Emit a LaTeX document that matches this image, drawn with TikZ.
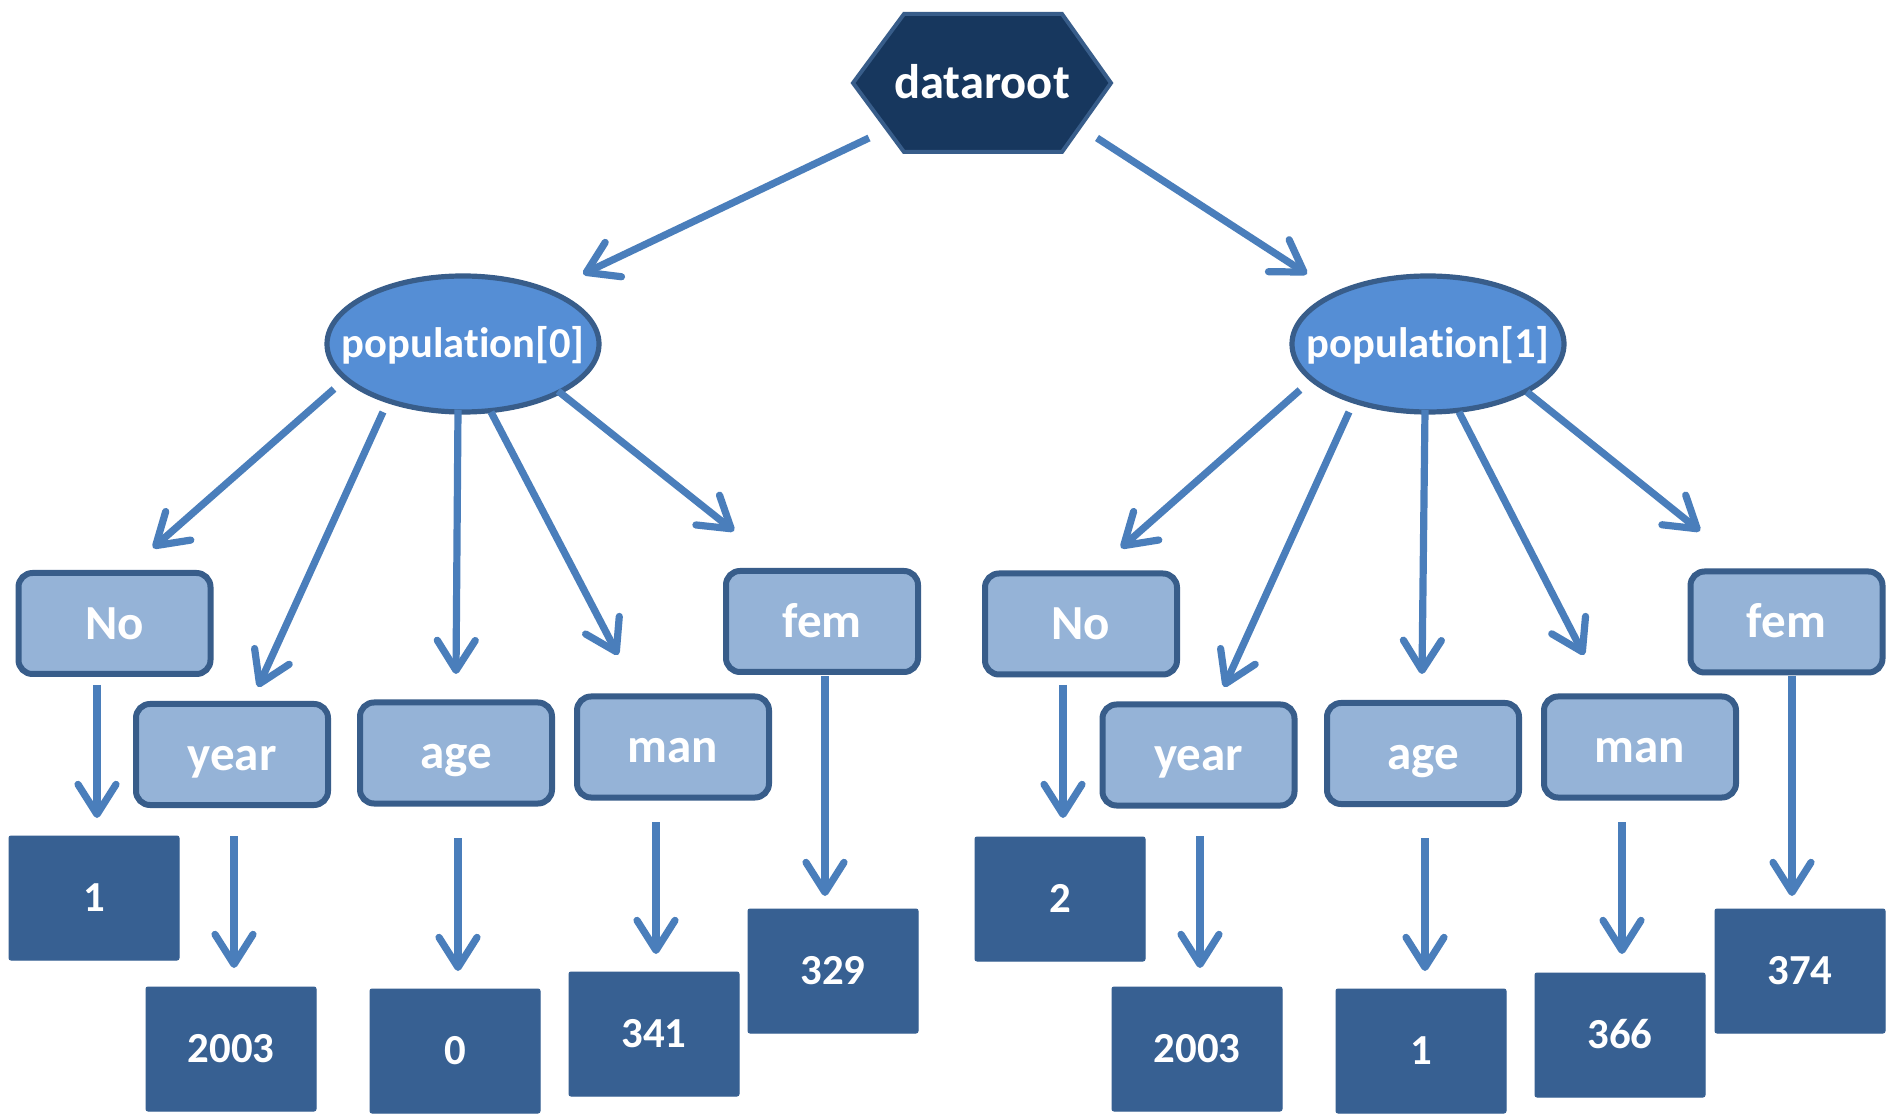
\documentclass[tikz,border=0pt]{standalone}
\usepackage{fontspec}
\setmainfont{Carlito}[Ligatures=NoCommon]
\usetikzlibrary{arrows.meta,shapes.geometric}
\definecolor{navy}{HTML}{17375E}
\definecolor{edgeb}{HTML}{385D8A}
\definecolor{ellf}{HTML}{558ED5}
\definecolor{keyf}{HTML}{95B3D7}
\definecolor{valf}{HTML}{376092}
\definecolor{arrc}{HTML}{4A7EBB}
\newcommand{\zw}[1]{\makebox[0pt]{#1}}
\begin{document}
\begin{tikzpicture}[x=0.5pt,y=-0.5pt,
  popnode/.style={ellipse, draw=edgeb, line width=2.6pt, fill=ellf, minimum width=136pt, minimum height=68pt, inner sep=0pt, text=white, text height=13.7pt, text depth=0pt, font=\bfseries\fontsize{21.3pt}{25pt}\selectfont},
  keybox/.style={rectangle, rounded corners=7pt, draw=edgeb, line width=3pt, fill=keyf, minimum width=96pt, minimum height=50.5pt, inner sep=0pt, text=white, text height=15.7pt, text depth=0pt, font=\bfseries\fontsize{24.5pt}{29pt}\selectfont},
  valbox/.style={rectangle, rounded corners=1pt, fill=valf, draw=valf, line width=0.5pt, minimum width=85pt, minimum height=62pt, inner sep=0pt, text=white, text height=13.7pt, text depth=0pt, font=\bfseries\fontsize{21.4pt}{25pt}\selectfont},
  rootnode/.style={text=white, inner sep=0pt, text height=15.5pt, text depth=0pt, font=\bfseries\fontsize{24.3pt}{29pt}\selectfont},
  arr/.style={draw=arrc, line width=3.6pt, -{Straight Barb[length=15pt,width=19pt,round]}},
]
\useasboundingbox (0,0) rectangle (1892,1117);
\fill[white] (0,0) rectangle (1892,1117);

% root hexagon
\filldraw[fill=navy, draw=edgeb, line width=2pt, line join=miter]
  (853,83) -- (904,14) -- (1062,14) -- (1111,83) -- (1062,152) -- (904,152) -- cycle;
\node[rootnode] (root) at (982,83) {dataroot};

% population nodes
\node[popnode] (p0) at (463,344) {\zw{population[0]}};
\node[popnode] (p1) at (1428,344) {\zw{population[1]}};

% key boxes
\node[keybox] (no0)   at (114.5,623.5) {No};
\node[keybox] (year0) at (232,754.5) {year};
\node[keybox] (age0)  at (456,753) {age};
\node[keybox] (man0)  at (673,747) {man};
\node[keybox] (fem0)  at (822,621.5) {fem};
\node[keybox] (no1)   at (1081,624) {No};
\node[keybox] (year1) at (1198.5,755) {year};
\node[keybox] (age1)  at (1423,753.5) {age};
\node[keybox] (man1)  at (1640,747) {man};
\node[keybox] (fem1)  at (1786.5,622) {fem};

% value boxes
\node[valbox] (vno0)   at (94,898) {1};
\node[valbox] (vyear0) at (231,1049) {2003};
\node[valbox] (vage0)  at (455,1051) {0};
\node[valbox] (vman0)  at (654,1034) {341};
\node[valbox] (vfem0)  at (833,971) {329};
\node[valbox] (vno1)   at (1060,899) {2};
\node[valbox] (vyear1) at (1197,1049) {2003};
\node[valbox] (vage1)  at (1421,1051) {1};
\node[valbox] (vman1)  at (1620,1035) {366};
\node[valbox] (vfem1)  at (1800,971) {374};

% connectors (free ends as named coordinates)
\foreach \n/\sx/\sy/\ex/\ey in {
  rootp0/869/138/583/274,
  rootp1/1097/138/1307/274,
  p0no/334/389/153/548,
  p0year/383/412/258/687,
  p0age/458/410/456/674,
  p0man/491/412/618/655,
  p0fem/558/391/734/531,
  p1no/1300/390/1121/548,
  p1year/1349/412/1224/687,
  p1age/1425/410/1422/674,
  p1man/1459/412/1584/655,
  p1fem/1527/392/1700/531,
  no0v/97/685/97/818,
  year0v/234/836/234/968,
  age0v/458/838/458/971,
  man0v/656/822/656/954,
  fem0v/825/676/825/896,
  no1v/1063/685/1063/818,
  year1v/1200/836/1200/968,
  age1v/1425/838/1425/971,
  man1v/1622/822/1622/954,
  fem1v/1792/676/1792/896}{
  \coordinate (\n-s) at (\sx,\sy);
  \coordinate (\n-e) at (\ex,\ey);
  \draw[arr] (\n-s) -- (\n-e);
}
\end{tikzpicture}
\end{document}
